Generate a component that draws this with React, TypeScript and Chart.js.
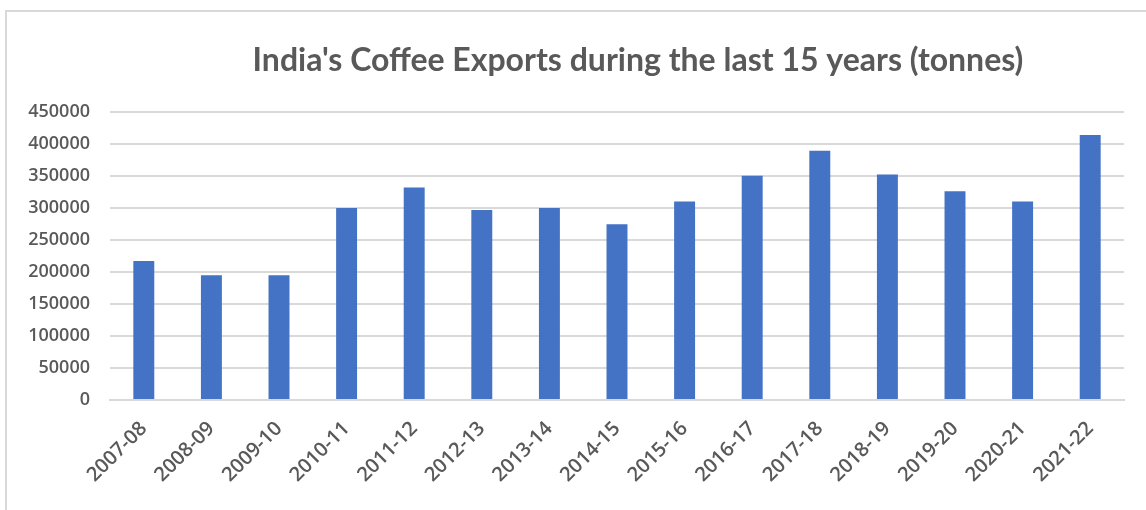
import React, { useEffect, useRef } from "react";
import { Chart, registerables } from "chart.js";

Chart.register(...registerables);

const TITLE = "India's Coffee Exports during the last 15 years (tonnes)";
const categories = [
  "2007-08", "2008-09", "2009-10", "2010-11", "2011-12", "2012-13", "2013-14", "2014-15",
  "2015-16", "2016-17", "2017-18", "2018-19", "2019-20", "2020-21", "2021-22",
];
const exportsTonnes = [
  217000, 195000, 195000, 300000, 332000, 297000, 300000, 274500,
  310000, 350500, 389500, 352500, 326000, 310000, 414000,
];
const yMin = 0;
const yMax = 450000;
const yStep = 50000;

const TEXT = "#595959";
const GRID = "#d9d9d9";

const titlePlugin = {
  id: "customTitle",
  afterDraw(chart: any) {
    const ctx = chart.ctx;
    ctx.save();
    ctx.fillStyle = TEXT;
    ctx.font = "bold 32px Lato";
    ctx.textAlign = "center";
    ctx.textBaseline = "alphabetic";
    ctx.fillText(TITLE, 638, 71);
    ctx.restore();
  },
};

export default function App() {
  const ref = useRef<HTMLCanvasElement | null>(null);
  useEffect(() => {
    const canvas = ref.current;
    if (!canvas) return;
    const chart = new Chart(canvas, {
      type: "bar",
      data: {
        labels: categories,
        datasets: [
          {
            data: exportsTonnes,
            backgroundColor: "#4472c4",
            borderWidth: 0,
            barPercentage: 0.31,
            categoryPercentage: 1,
          },
        ],
      },
      options: {
        responsive: false,
        animation: false,
        layout: { padding: { top: 112, right: 22, left: 0, bottom: 0 } },
        plugins: { legend: { display: false }, tooltip: { enabled: false } },
        scales: {
          x: {
            grid: { display: false },
            border: { color: GRID, width: 2 },
            ticks: {
              color: TEXT,
              font: { family: "Open Sans", size: 20, weight: "600" },
              minRotation: 45,
              maxRotation: 45,
              padding: 9,
            },
            afterFit(scale: any) {
              scale.height = 110;
            },
          },
          y: {
            min: yMin,
            max: yMax,
            border: { display: false },
            grid: { color: GRID, lineWidth: 2, drawTicks: false },
            ticks: {
              stepSize: yStep,
              color: TEXT,
              font: { family: "Open Sans", size: 18, weight: "600" },
              padding: 20,
              callback: (v: any) => String(v),
            },
            afterFit(scale: any) {
              scale.width = 110;
            },
          },
        },
      },
      plugins: [titlePlugin],
    });
    return () => chart.destroy();
  }, []);
  return (
    <div style={{ position: "fixed", left: 0, top: 0, width: 1146, height: 510, background: "#fff", overflow: "hidden" }}>
      <div
        style={{
          position: "absolute",
          left: 5,
          top: 10,
          width: 1300,
          height: 700,
          border: "2px solid #d9d9d9",
        }}
      />
      <canvas ref={ref} width={1146} height={510} style={{ position: "absolute", left: 0, top: 0 }} />
    </div>
  );
}
